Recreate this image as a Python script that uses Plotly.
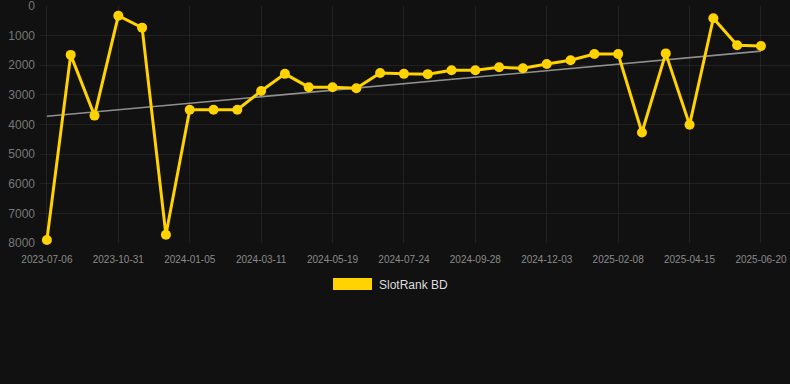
import numpy as np
import plotly.graph_objects as go

dates = [
    "2023-07-06", "2023-08-14", "2023-09-22", "2023-10-31", "2023-11-22", "2023-12-14",
    "2024-01-05", "2024-01-27", "2024-02-18", "2024-03-11", "2024-04-03", "2024-04-26",
    "2024-05-19", "2024-06-10", "2024-07-02", "2024-07-24", "2024-08-15", "2024-09-06",
    "2024-09-28", "2024-10-20", "2024-11-11", "2024-12-03", "2024-12-25", "2025-01-17",
    "2025-02-08", "2025-03-02", "2025-03-24", "2025-04-15", "2025-05-07", "2025-05-29",
    "2025-06-20",
]
rank_bd = [
    7900, 1650, 3700, 330, 730, 7720,
    3500, 3500, 3500, 2870, 2290, 2740,
    2740, 2775, 2260, 2290, 2300, 2170,
    2170, 2070, 2100, 1955, 1830, 1620,
    1620, 4270, 1600, 4010, 415, 1325,
    1350,
]
tick_labels = dates[::3]
y_ticks = [0, 1000, 2000, 3000, 4000, 5000, 6000, 7000, 8000]
series_name = "SlotRank BD"

idx = np.arange(len(rank_bd))
slope, intercept = np.polyfit(idx, rank_bd, 1)
trend = [float(intercept + slope * i) for i in idx]

GOLD = "#FFD200"
fig = go.Figure()
fig.add_trace(go.Scatter(
    x=dates, y=trend, mode="lines",
    line=dict(color="rgba(175,175,175,0.8)", width=1.6),
    showlegend=False, hoverinfo="skip",
))
fig.add_trace(go.Scatter(
    x=dates, y=rank_bd, mode="lines+markers", name=series_name,
    line=dict(color=GOLD, width=3),
    marker=dict(color=GOLD, size=10),
    showlegend=False, cliponaxis=False,
))

# legend imitation (Chart.js style box)
fig.add_shape(type="rect", xref="paper", yref="paper",
              x0=(333 - 40) / 750, x1=(372 - 40) / 750,
              y0=(243 - 290) / 237, y1=(243 - 278) / 237,
              fillcolor=GOLD, line=dict(width=0))
fig.add_annotation(text=series_name, xref="paper", yref="paper",
                   x=(377 - 40) / 750, y=(243 - 285) / 237,
                   xanchor="left", yanchor="middle", showarrow=False,
                   font=dict(family="Liberation Sans, Arial", size=12, color="#dddddd"))

fig.update_layout(
    width=790, height=384,
    margin=dict(l=40, r=0, t=6, b=141),
    paper_bgcolor="#111111", plot_bgcolor="#111111",
    font=dict(family="Liberation Sans, Arial", color="#888888"),
    showlegend=False,
)
fig.update_xaxes(
    type="category", categoryorder="array", categoryarray=dates,
    range=[-0.29, 31.22],
    tickmode="array", tickvals=tick_labels, ticktext=tick_labels,
    tickfont=dict(size=10, color="#8a8a8a"), tickangle=0,
    showgrid=True, gridcolor="rgba(255,255,255,0.07)", gridwidth=1,
    zeroline=False, showline=False, ticks="", ticklabelstandoff=9,
    ticklabeloverflow="allow",
)
fig.update_yaxes(
    range=[8000, 0],
    tickmode="array", tickvals=y_ticks,
    tickfont=dict(size=12, color="#777777"),
    showgrid=True, gridcolor="rgba(255,255,255,0.07)", gridwidth=1,
    zeroline=False, showline=False, ticks="", ticklabelstandoff=4,
    ticklabeloverflow="allow",
)
fig.write_html(
    "out.html",
    config={"displayModeBar": False},
    post_script="document.body.style.margin='0';document.body.style.background='#111111';",
)
